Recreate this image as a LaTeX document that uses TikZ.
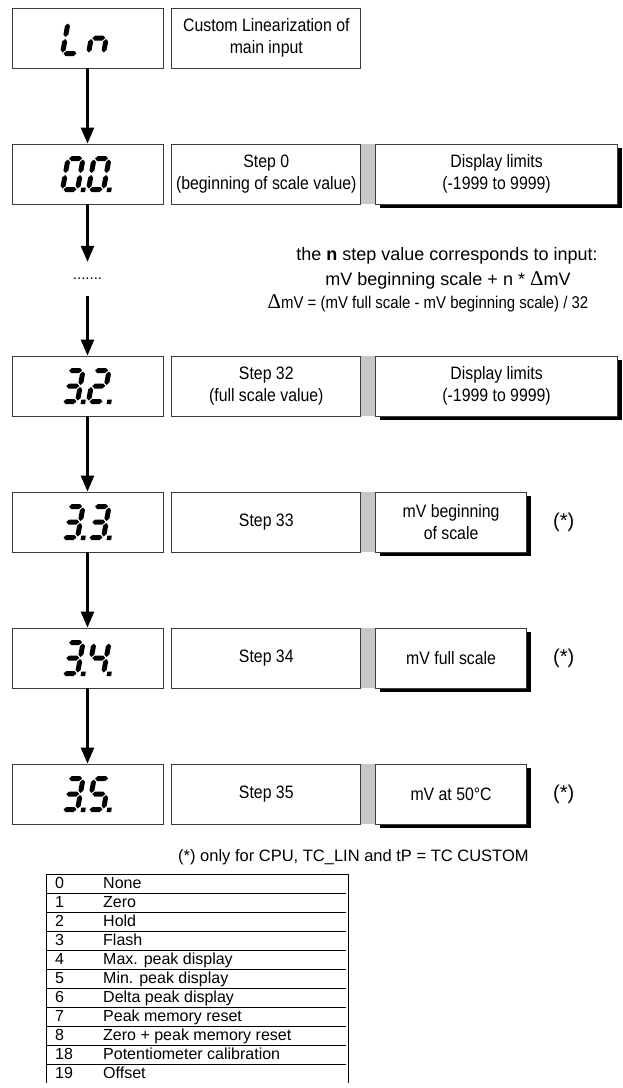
\documentclass[tikz,border=0pt]{standalone}
\usepackage{fontspec}
\setmainfont{Liberation Sans}
\newfontfamily\boxfont[FakeStretch=0.88]{Liberation Sans}
\newfontfamily\deltafont{Liberation Serif}
\usetikzlibrary{arrows.meta,positioning,shadows,backgrounds}
\definecolor{BarGray}{RGB}{200,200,200}
\definecolor{EdgeGray}{RGB}{60,60,60}

% seven-segment pieces (digit 15 wide, 31 high)
\newcommand{\hseg}[1]{\fill (1,#1) -- (3.5,#1+2.5) -- (11.5,#1+2.5) -- (14,#1) -- (11.5,#1-2.5) -- (3.5,#1-2.5) -- cycle;}
\newcommand{\vseg}[2]{\fill (#1,#2+1) -- (#1+2.5,#2+3.5) -- (#1+2.5,#2+12) -- (#1,#2+14.5) -- (#1-2.5,#2+12) -- (#1-2.5,#2+3.5) -- cycle;}
\newcommand{\segA}{\hseg{31}}
\newcommand{\segG}{\hseg{15.5}}
\newcommand{\segD}{\hseg{0}}
\newcommand{\segF}{\vseg{0}{15.5}}
\newcommand{\segE}{\vseg{0}{0}}
\newcommand{\segB}{\vseg{15}{15.5}}
\newcommand{\segC}{\vseg{15}{0}}
\newcommand{\segP}{\fill (18.5,-2.5) rectangle (23,2);}
\newcommand{\lcdpair}[3]{%
  \begin{scope}[shift={(#1.center)}]
    \begin{scope}[shift={(-25,-15.5)},xslant=0.18] #2 \end{scope}
    \begin{scope}[shift={(1,-15.5)},xslant=0.18] #3 \end{scope}
  \end{scope}}

\tikzset{
  lcdbox/.style={draw=EdgeGray, line width=0.8pt, minimum width=151pt, minimum height=60pt, inner sep=0pt},
  stepbox/.style={draw=EdgeGray, line width=0.8pt, minimum width=189pt, minimum height=60pt,
    inner sep=0pt, align=center, font=\boxfont\fontsize{18}{22}\selectfont},
  valbox/.style={stepbox, fill=white, drop shadow={shadow xshift=4pt, shadow yshift=-4pt, opacity=1, fill=black}},
  flowarrow/.style={-{Triangle[length=16pt,width=13pt]}, line width=2.4pt},
  notetext/.style={font=\fontsize{18}{20}\selectfont, inner sep=0pt},
  startext/.style={font=\fontsize{20}{20}\selectfont, inner sep=0pt},
  tabtext/.style={font=\fontsize{16}{19}\selectfont, inner sep=0pt, anchor=base west},
}

\begin{document}
\begin{tikzpicture}[x=1pt, y=1pt]
\useasboundingbox (0,0) rectangle (623,-1088);

% display column
\node[lcdbox] (ln) at (87.5,-38) {};
\node[lcdbox] (d00) at (87.5,-174) {};
\node[font=\fontsize{15}{15}\selectfont, minimum height=34pt, inner sep=0pt] (dots) at (87.5,-279) {.......};
\node[lcdbox] (d32) at (87.5,-386) {};
\node[lcdbox] (d33) at (87.5,-522) {};
\node[lcdbox] (d34) at (87.5,-658) {};
\node[lcdbox] (d35) at (87.5,-794) {};

\lcdpair{ln}{\segF\segE\segD}{\segE\segG\segC}
\lcdpair{d00}{\segA\segB\segC\segD\segE\segF\segP}{\segA\segB\segC\segD\segE\segF\segP}
\lcdpair{d32}{\segA\segB\segG\segC\segD\segP}{\segA\segB\segG\segE\segD\segP}
\lcdpair{d33}{\segA\segB\segG\segC\segD\segP}{\segA\segB\segG\segC\segD\segP}
\lcdpair{d34}{\segA\segB\segG\segC\segD\segP}{\segF\segG\segB\segC\segP}
\lcdpair{d35}{\segA\segB\segG\segC\segD\segP}{\segA\segF\segG\segC\segD\segP}

% step and value boxes
\node[stepbox, right=8pt of ln] (lndesc) {Custom Linearization of\\main input};
\node[stepbox, right=8pt of d00] (s00) {Step 0\\(beginning of scale value)};
\node[valbox, minimum width=242pt, right=14pt of s00] (v00) {Display limits\\(-1999 to 9999)};
\node[stepbox, right=8pt of d32] (s32) {Step 32\\(full scale value)};
\node[valbox, minimum width=242pt, right=14pt of s32] (v32) {Display limits\\(-1999 to 9999)};
\node[stepbox, right=8pt of d33] (s33) {Step 33};
\node[valbox, minimum width=151pt, right=14pt of s33] (v33) {mV beginning\\of scale};
\node[stepbox, right=8pt of d34] (s34) {Step 34};
\node[valbox, minimum width=151pt, right=14pt of s34] (v34) {mV full scale};
\node[stepbox, right=8pt of d35] (s35) {Step 35};
\node[valbox, minimum width=151pt, right=14pt of s35] (v35) {mV at 50°C};

\begin{scope}[on background layer]
\fill[BarGray] (s00.north east) rectangle (v00.south west);
\fill[BarGray] (s32.north east) rectangle (v32.south west);
\fill[BarGray] (s33.north east) rectangle (v33.south west);
\fill[BarGray] (s34.north east) rectangle (v34.south west);
\fill[BarGray] (s35.north east) rectangle (v35.south west);
\end{scope}

\node[startext, right=26pt of v33] (st33) {(*)};
\node[startext, right=26pt of v34] (st34) {(*)};
\node[startext, right=26pt of v35] (st35) {(*)};

% note on the n step
\node[notetext] (note1) at (447,-256) {the \textbf{n} step value corresponds to input:};
\node[notetext] (note2) at (448,-280) {mV beginning scale + n * {\deltafont\fontsize{21}{21}\selectfont Δ}mV};
\node[notetext, font=\boxfont\fontsize{17}{20}\selectfont] (note3) at (428,-303)
  {{\deltafont\fontsize{21}{21}\selectfont Δ}mV = (mV full scale - mV beginning scale) / 32};

% arrows
\draw[flowarrow] (ln.south) -- (d00.north);
\draw[flowarrow] (d00.south) -- (dots.north);
\draw[flowarrow] (dots.south) -- (d32.north);
\draw[flowarrow] (d32.south) -- (d33.north);
\draw[flowarrow] (d33.south) -- (d34.north);
\draw[flowarrow] (d34.south) -- (d35.north);

\node[font=\fontsize{16.5}{19}\selectfont, anchor=west, inner sep=0pt] (starnote) at (178,-857)
  {(*) only for CPU, TC\_LIN and tP = TC CUSTOM};

% function table
\draw[line width=0.8pt] (46,-1083) -- (46,-874) -- (348,-874) -- (348,-1083);
\foreach \i in {1,...,10}
  \draw[line width=0.8pt] (46,{-874-19*\i}) -- (346,{-874-19*\i});
\foreach \n/\t [count=\i from 0] in {0/None, 1/Zero, 2/Hold, 3/Flash, 4/Max. peak display,
    5/Min. peak display, 6/Delta peak display, 7/Peak memory reset,
    8/Zero + peak memory reset, 18/Potentiometer calibration, 19/Offset} {
  \node[tabtext] (num\i) at (55,{-874-19*\i-14}) {\n};
  \node[tabtext] (fn\i) at (103,{-874-19*\i-14}) {\t};
}
\end{tikzpicture}
\end{document}
